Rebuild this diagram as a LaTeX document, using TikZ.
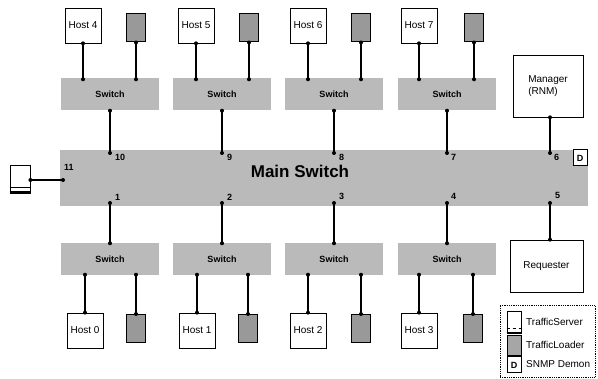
\documentclass[tikz,border=0pt]{standalone}
\usepackage{fontspec}
\setmainfont{Liberation Sans}
\begin{document}
\begin{tikzpicture}[x=1pt,y=-1pt]
\tikzset{
 host/.style={draw, line width=0.7pt, minimum width=36pt, minimum height=35pt, inner sep=0, font=\fontsize{10}{12}\selectfont},
 loader/.style={draw, line width=1pt, fill=black!40, minimum width=19pt, minimum height=28pt, inner sep=0},
 switchbox/.style={fill=black!27, minimum width=98pt, minimum height=32pt, inner sep=0, font=\bfseries\fontsize{9}{10}\selectfont},
 conn/.style={line width=1.1pt},
 dot/.style={circle, fill=black, inner sep=0, minimum size=4pt},
 portlbl/.style={font=\bfseries\fontsize{9}{10}\selectfont, inner sep=0, anchor=west},
 plainbox/.style={draw, line width=0.7pt, inner sep=0, font=\fontsize{10}{12}\selectfont},
 lgtext/.style={font=\fontsize{10}{12}\selectfont, anchor=west, inner sep=0}
}
\useasboundingbox (0,0) rectangle (598,379);
% main switch
\node[fill=black!27, minimum width=528pt, minimum height=56pt, inner sep=0] (ms) at (324,178) {};
\node[font=\bfseries\fontsize{17}{20}\selectfont] (mslbl) at (300,171) {Main Switch};
\node[draw, line width=1pt, fill=white, minimum width=14pt, minimum height=16pt, inner sep=0, font=\bfseries\fontsize{9}{10}\selectfont] (dbox) at (580,158) {D};
% ports
\foreach \n/\x in {10/110, 9/222, 8/334, 7/447, 6/550} {
  \coordinate (p\n) at (\x,153);
}
\foreach \n/\x in {1/110, 2/222, 3/334, 4/447, 5/550} {
  \coordinate (p\n) at (\x,203);
}
\coordinate (p11) at (63,180);
\foreach \n in {1,...,11} { \node[dot] at (p\n) {}; }
\foreach \n/\x/\y in {10/115/157, 9/227/157, 8/339/157, 7/451/157, 6/554/157, 1/115/197, 2/227/197, 3/339/196, 4/451/196, 5/555/195, 11/64/167} {
  \node[portlbl] (l\n) at (\x,\y) {\n};
}
% top row
\foreach \i/\h/\l/\s/\p in {4/83/136/110/10, 5/196/249/222/9, 6/308/361/334/8, 7/419/474/447/7} {
  \node[host] (H\i) at (\h,25.5) {Host \i};
  \node[loader] (L\i) at (\l,28) {};
  \node[switchbox] (S\i) at (\s,94.5) {Switch};
  \draw[conn] (H\i.south) -- (H\i.south |- S\i.north);
  \draw[conn] (L\i.south) -- (L\i.south |- S\i.north);
  \node[dot] at (H\i.south) {};
  \node[dot] at (L\i.south) {};
  \node[dot] at ([yshift=-1pt]H\i.south |- S\i.north) {};
  \node[dot] at ([yshift=-1pt]L\i.south |- S\i.north) {};
  \draw[conn] (S\i.south) -- (p\p);
  \node[dot] at (S\i.south) {};
}
% bottom row
\foreach \i/\h/\l/\s/\p in {0/85/136/110/1, 1/197/248/222/2, 2/308/361/334/3, 3/419/473/447/4} {
  \node[host] (H\i) at (\h,330.5) {Host \i};
  \node[loader] (L\i) at (\l,328.5) {};
  \node[switchbox] (S\i) at (\s,259.5) {Switch};
  \draw[conn] (H\i.north) -- (H\i.north |- S\i.south);
  \draw[conn] (L\i.north) -- (L\i.north |- S\i.south);
  \node[dot] at (H\i.north) {};
  \node[dot] at (L\i.north) {};
  \node[dot] at ([yshift=1pt]H\i.north |- S\i.south) {};
  \node[dot] at ([yshift=1pt]L\i.north |- S\i.south) {};
  \draw[conn] (S\i.north) -- (p\p);
  \node[dot] at (S\i.north) {};
}
% manager and requester
\node[plainbox, minimum width=70pt, minimum height=62pt, align=left] (mgr) at (548,86) {Manager\\(RNM)};
\draw[conn] (mgr.south -| p6) -- (p6);
\node[dot] at (mgr.south -| p6) {};
\node[plainbox, minimum width=73pt, minimum height=52pt] (req) at (546.5,266) {Requester};
\draw[conn] (req.north -| p5) -- (p5);
\node[dot] at (req.north -| p5) {};
% left traffic server
\node[draw, line width=0.8pt, minimum width=20pt, minimum height=28pt, inner sep=0] (ts) at (20,179) {};
\draw[line width=0.5pt] ([yshift=6pt]ts.south west) -- ([yshift=6pt]ts.south east);
\draw[line width=2pt] ([yshift=1.5pt]ts.south west) -- ([yshift=1.5pt]ts.south east);
\draw[conn] (ts.east |- p11) -- (p11);
\node[dot] at (ts.east |- p11) {};
% legend
\node[draw, line width=0.5pt, dash pattern=on 1pt off 0.8pt, minimum width=95pt, minimum height=72pt, inner sep=0] (lg) at (547.5,341.5) {};
\node[draw, line width=0.6pt, minimum width=14pt, minimum height=22pt, inner sep=0] (lts) at (514,322) {};
\draw[line width=0.4pt, dashed] ([yshift=5pt]lts.south west) -- ([yshift=5pt]lts.south east);
\draw[line width=1.2pt] ([yshift=1pt]lts.south west) -- ([yshift=1pt]lts.south east);
\node[draw, line width=0.6pt, fill=black!35, minimum width=14pt, minimum height=20pt, inner sep=0] (lld) at (514,345) {};
\node[draw, line width=1pt, minimum width=14pt, minimum height=16pt, inner sep=0, font=\bfseries\fontsize{9}{10}\selectfont] (ld) at (514,365) {D};
\node[lgtext] (t1) at (526,322) {TrafficServer};
\node[lgtext] (t2) at (526,345) {TrafficLoader};
\node[lgtext] (t3) at (526,364) {SNMP Demon};
\end{tikzpicture}
\end{document}
